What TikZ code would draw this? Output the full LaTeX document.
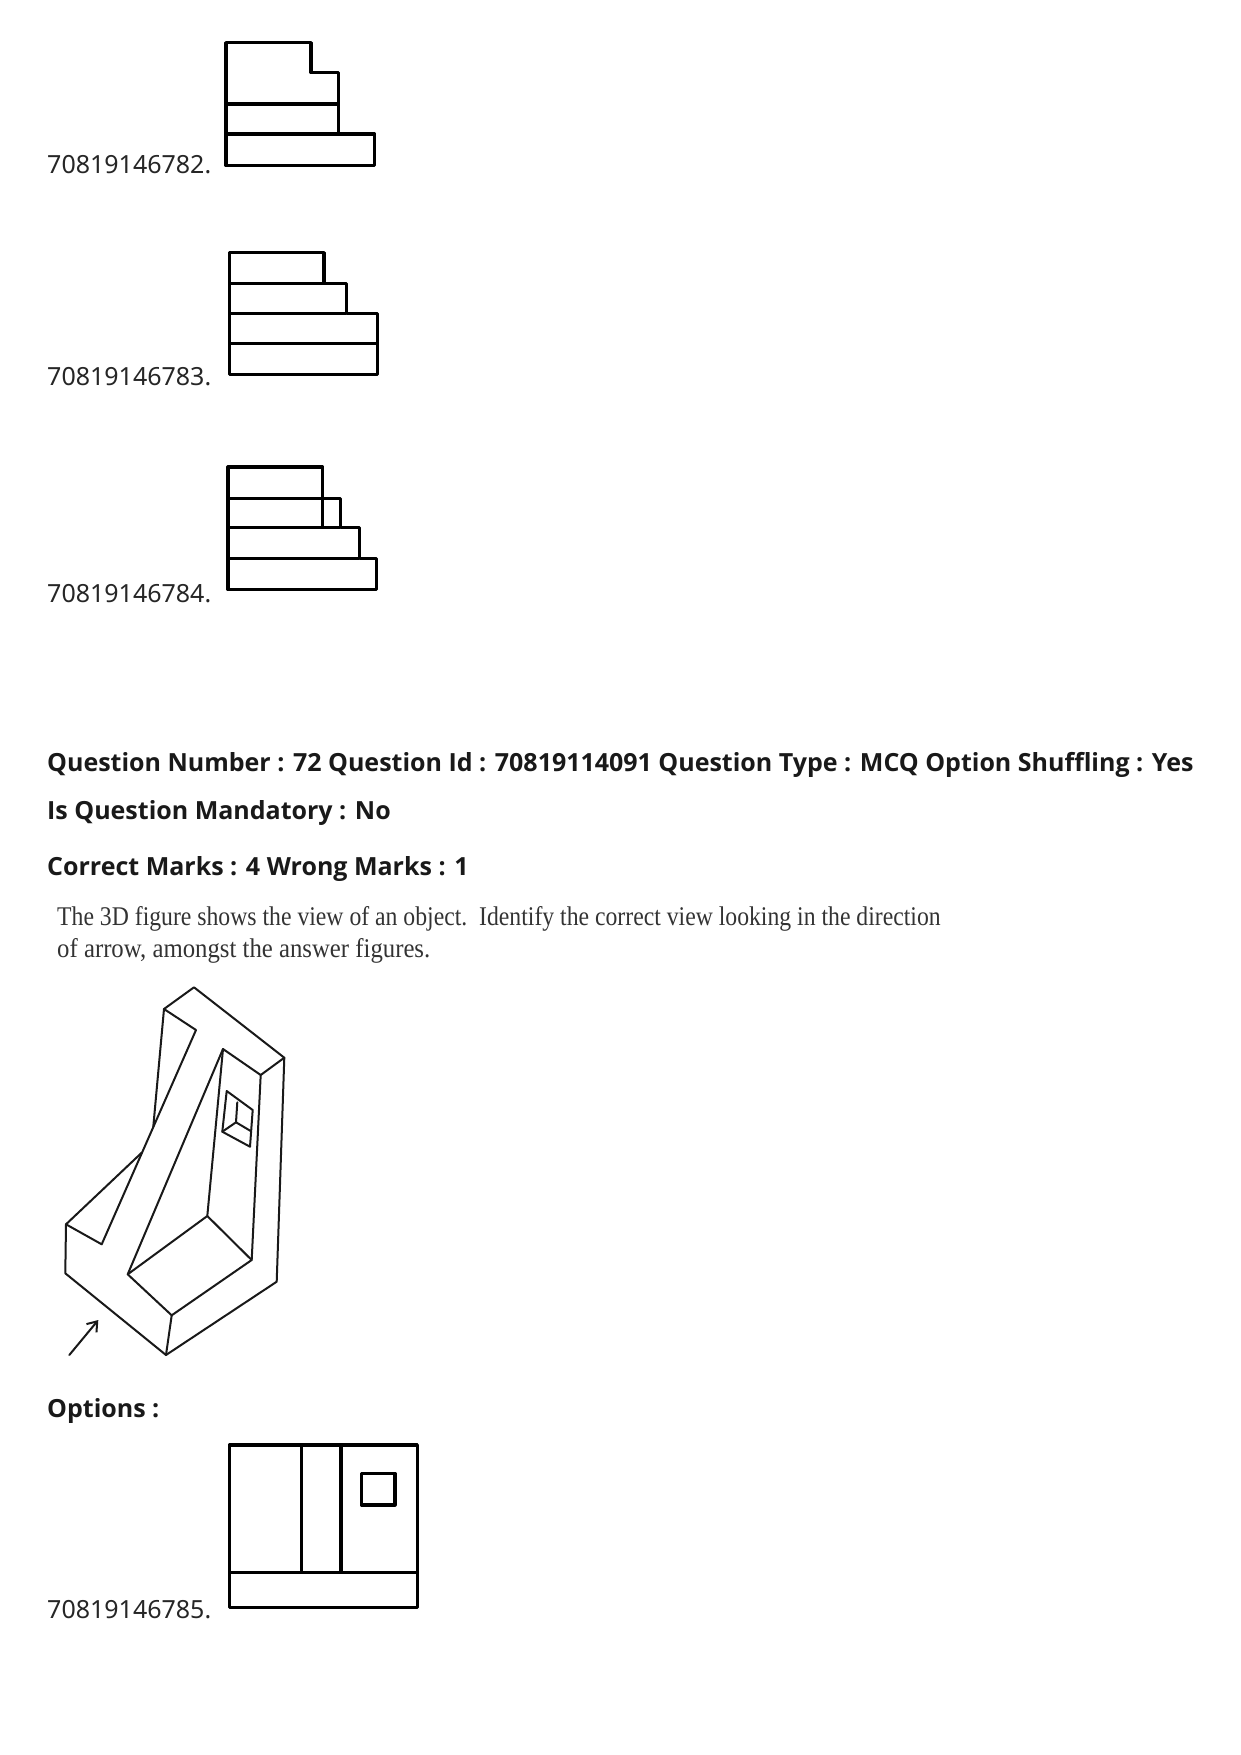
\documentclass[tikz,border=0pt]{standalone}
\usepackage{fontspec}
\setmainfont{Noto Sans}
\newfontfamily\headfont{Open Sans}[BoldFont={Open Sans Bold}]
\newfontfamily\scanfont{Liberation Serif}
\usetikzlibrary{arrows.meta}
\tikzset{
  lbl/.style={anchor=base west,inner sep=0pt,font=\fontsize{25}{30}\selectfont,text=black!85},
  head/.style={anchor=base west,inner sep=0pt,font=\headfont\fontsize{25}{30}\selectfont\bfseries,text=black!90},
  scan/.style={anchor=base west,inner sep=0pt,font=\fontsize{27}{32}\selectfont\scanfont,text=black!80},
  opt/.style={draw=black,line width=3.2pt,line join=round},
  iso/.style={draw=black!90,line width=2pt,line join=round,line cap=round}
}
\begin{document}
\begin{tikzpicture}[x=1pt,y=-1pt]
\useasboundingbox (0,0) rectangle (1240,1755);
% labels
\node[lbl] (l1) at (47,174) {70819146782.};
\node[lbl] (l2) at (47,385) {70819146783.};
\node[lbl] (l3) at (47,602) {70819146784.};
\node[lbl] (l4) at (47,1618) {70819146785.};
\node[head] (h1) at (47,771) {Question Number : 72 Question Id : 70819114091 Question Type : MCQ Option Shuffling : Yes};
\node[head] (h2) at (47,819) {Is Question Mandatory : No};
\node[head] (h3) at (47,875) {Correct Marks : 4 Wrong Marks : 1};
\node[head] (h4) at (47,1417) {Options :};
\node[scan] (q1) at (57,925) {\scalebox{0.878}[1]{The 3D figure shows the view of an object.\ \ Identify the correct view looking in the direction}};
\node[scan] (q2) at (57,957) {\scalebox{0.917}[1]{of arrow, amongst the answer figures.}};
% option 1
\draw[opt] (226,42.7) -- (311,42.7) -- (311,72.7) -- (338.2,72.7) -- (338.2,134) -- (374.5,134) -- (374.5,165.7) -- (226,165.7) -- cycle;
\draw[opt] (226,104) -- (338.2,104);
\draw[opt] (226,134) -- (338.2,134);
% option 2
\draw[opt] (229.3,252.7) -- (324,252.7) -- (324,283.3) -- (346.2,283.3) -- (346.2,313.3) -- (377.5,313.3) -- (377.5,374.3) -- (229.3,374.3) -- cycle;
\draw[opt] (229.3,283.3) -- (324,283.3);
\draw[opt] (229.3,313.3) -- (346.2,313.3);
\draw[opt] (229.3,343.3) -- (377.5,343.3);
% option 3
\draw[opt] (228,467) -- (322.7,467) -- (322.7,498.3) -- (340.2,498.3) -- (340.2,527.7) -- (359.2,527.7) -- (359.2,558.7) -- (376.8,558.7) -- (376.8,589.7) -- (228,589.7) -- cycle;
\draw[opt] (228,498.3) -- (322.7,498.3);
\draw[opt] (322.7,498.3) -- (322.7,527.7);
\draw[opt] (228,527.7) -- (340.2,527.7);
\draw[opt] (228,558.7) -- (359.2,558.7);
% option 4
\draw[opt] (229.3,1445) rectangle (417.3,1607.3);
\draw[opt] (229.3,1572.7) -- (417.3,1572.7);
\draw[opt] (301.3,1445) -- (301.3,1572.7);
\draw[opt] (341,1445) -- (341,1572.7);
\draw[opt] (361.3,1473.3) rectangle (395,1505);
% 3D object
\draw[iso] (164,1009) -- (194,987.3) -- (284.3,1057.7) -- (276.7,1281.7) -- (166,1355) -- (65.3,1273.3) -- (66,1224.3) -- (141.7,1152.7);
\draw[iso] (164,1009) -- (153.3,1126.7);
\draw[iso] (164,1009) -- (196,1030) -- (101.7,1244.3) -- (66,1224.3);
\draw[iso] (284.3,1057.7) -- (260.7,1075) -- (223,1049) -- (127.7,1274.3) -- (171.7,1315.3) -- (166,1355);
\draw[iso] (260.7,1075) -- (251.7,1260) -- (171.7,1315.3);
\draw[iso] (223,1049) -- (207.3,1216) -- (127.7,1274.3);
\draw[iso] (207.3,1216) -- (251.7,1260);
% window
\draw[iso] (226.7,1091) -- (252.7,1110) -- (250,1146.7) -- (222.3,1131.7) -- cycle;
\draw[iso] (237.3,1102.3) -- (236,1122.3) -- (222.3,1131.7);
\draw[iso] (236,1122.3) -- (250.7,1131);
% arrow
\coordinate (arrowA) at (69.3,1355);
\coordinate (arrowB) at (98.3,1320);
\draw[iso,-{Straight Barb[length=9pt,width=13pt]}] (arrowA) -- (arrowB);
\end{tikzpicture}
\end{document}
